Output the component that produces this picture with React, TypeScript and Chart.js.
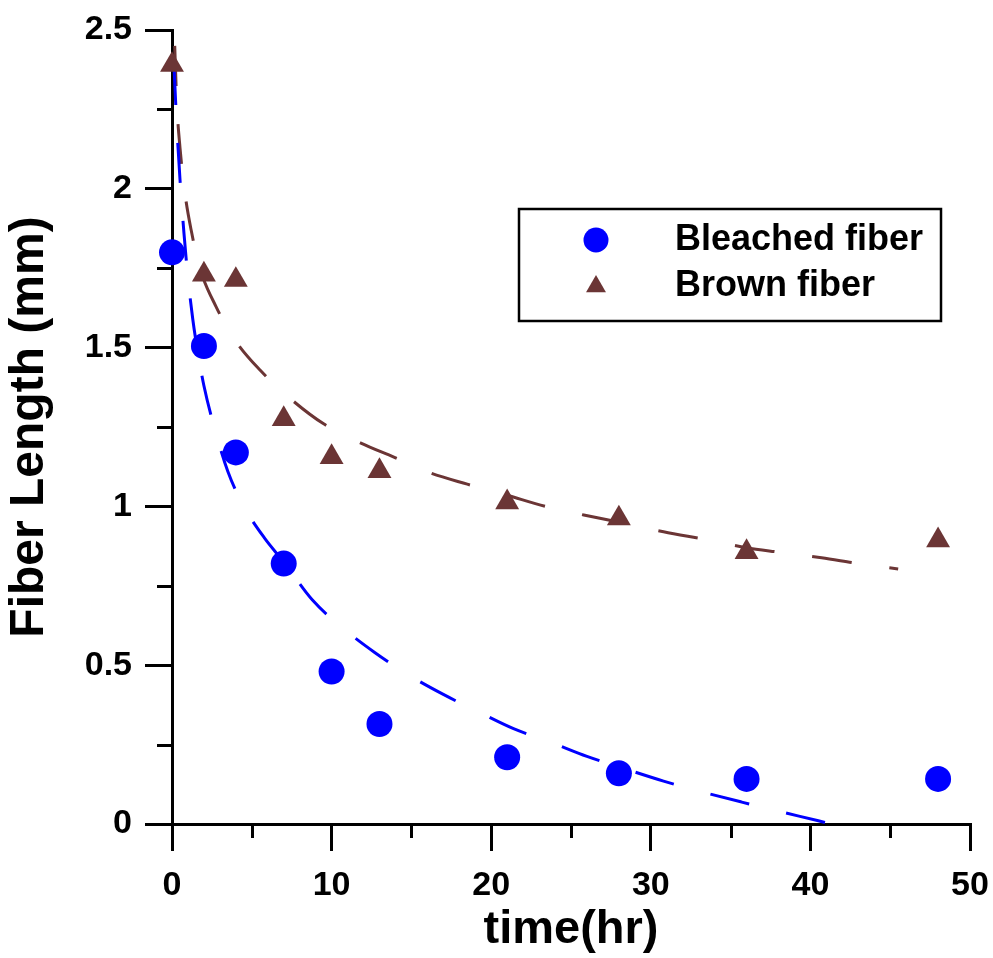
import React, { useEffect, useRef } from 'react';
import { Chart, registerables } from 'chart.js';

Chart.register(...registerables);

// Measured data
const bleachedTime = [0, 2, 4, 7, 10, 13, 21, 28, 36, 48];
const bleachedLength = [1.80, 1.505, 1.17, 0.82, 0.48, 0.315, 0.21, 0.16, 0.142, 0.142];
const brownTime = [0, 2, 4, 7, 10, 13, 21, 28, 36, 48];
const brownLength = [2.39, 1.73, 1.713, 1.275, 1.155, 1.111, 1.013, 0.962, 0.856, 0.893];

// Fitted curves
const bleachedFitTime = [0.12, 0.3, 0.5, 0.75, 1.0, 1.3, 1.6, 2.0, 2.7, 3.5, 4.5, 5.8, 7.0, 8.8, 10.7, 12.7, 14.8, 17.0, 19.2, 21.4, 23.7, 26.0, 28.0, 30.8, 33.3, 35.7, 38.2, 40.5, 41.3];
const bleachedFitLength = [2.39, 2.2, 2.03, 1.86, 1.72, 1.59, 1.49, 1.38, 1.24, 1.11, 1.0, 0.9, 0.825, 0.705, 0.617, 0.54, 0.47, 0.408, 0.353, 0.30, 0.258, 0.213, 0.18, 0.135, 0.10, 0.069, 0.038, 0.01, 0.0];
const brownFitTime = [0.17, 0.3, 0.5, 0.8, 1.2, 1.75, 2.75, 4.0, 5.5, 7.4, 9.5, 11.8, 13.9, 16.2, 18.5, 21.0, 23.4, 25.8, 28.5, 30.8, 33.5, 36.0, 38.0, 40.7, 43.0, 45.5];
const brownFitLength = [2.45, 2.27, 2.13, 1.99, 1.87, 1.75, 1.63, 1.52, 1.43, 1.34, 1.26, 1.20, 1.155, 1.105, 1.07, 1.035, 1.0, 0.973, 0.945, 0.92, 0.895, 0.87, 0.856, 0.838, 0.82, 0.803];

// Axis ticks
const xMajorTicks = [0, 10, 20, 30, 40, 50];
const xMinorTicks = [5, 15, 25, 35, 45];
const yMajorTicks = [0, 0.5, 1, 1.5, 2, 2.5];
const yTickLabels = ['0', '0.5', '1', '1.5', '2', '2.5'];
const yMinorTicks = [0.25, 0.75, 1.25, 1.75, 2.25];

const seriesNames = ['Bleached fiber', 'Brown fiber'];
const BLUE = '#0000ff';
const BROWN = '#6b3535';
const FONT = '"Liberation Sans", Arial, Helvetica, sans-serif';

const toXY = (xs: number[], ys: number[]) => xs.map((x, i) => ({ x, y: ys[i] }));

const minorTickPlugin = {
  id: 'minorTicks',
  beforeDatasetsDraw(chart: any) {
    const ctx = chart.ctx;
    const xs = chart.scales.x;
    const ys = chart.scales.y;
    const area = chart.chartArea;
    ctx.save();
    ctx.strokeStyle = '#000';
    ctx.lineWidth = 3;
    ctx.lineCap = 'butt';
    for (const v of yMinorTicks) {
      const py = Math.round(ys.getPixelForValue(v)) + 0.5;
      ctx.beginPath();
      ctx.moveTo(area.left - 15, py);
      ctx.lineTo(area.left, py);
      ctx.stroke();
    }
    for (const v of xMinorTicks) {
      const px = Math.round(xs.getPixelForValue(v)) + 0.5;
      ctx.beginPath();
      ctx.moveTo(px, area.bottom);
      ctx.lineTo(px, area.bottom + 14);
      ctx.stroke();
    }
    ctx.restore();
  },
};

const legendPlugin = {
  id: 'boxLegend',
  afterDatasetsDraw(chart: any) {
    const ctx = chart.ctx;
    ctx.save();
    ctx.lineWidth = 2.5;
    ctx.strokeStyle = '#000';
    ctx.strokeRect(519, 209, 422, 112);
    // circle marker
    ctx.fillStyle = chart.data.datasets[0].backgroundColor;
    ctx.beginPath();
    ctx.arc(596, 240, 12.5, 0, Math.PI * 2);
    ctx.fill();
    // triangle marker
    const r = 11.5;
    const cx = 596;
    const cy = 286.5;
    ctx.fillStyle = chart.data.datasets[1].backgroundColor;
    ctx.beginPath();
    for (let k = 0; k < 3; k++) {
      const a = (k * 2 * Math.PI) / 3;
      const px = cx + Math.sin(a) * r;
      const py = cy - Math.cos(a) * r;
      if (k === 0) ctx.moveTo(px, py);
      else ctx.lineTo(px, py);
    }
    ctx.closePath();
    ctx.fill();
    ctx.fillStyle = '#000';
    ctx.font = `bold 36px ${FONT}`;
    ctx.textBaseline = 'middle';
    ctx.textAlign = 'left';
    ctx.fillText(chart.data.datasets[0].label, 675, 240);
    ctx.fillText(chart.data.datasets[1].label, 675, 286);
    ctx.restore();
  },
};

export default function App() {
  const ref = useRef<HTMLCanvasElement>(null);
  useEffect(() => {
    const canvas = ref.current;
    if (!canvas) return;
    const axisGrid = {
      drawOnChartArea: false,
      drawTicks: true,
      tickLength: 27,
      tickWidth: 3,
      tickColor: '#000',
      color: '#000',
      lineWidth: 3,
    };
    const chart = new Chart(canvas, {
      type: 'scatter',
      data: {
        datasets: [
          {
            label: seriesNames[0],
            data: toXY(bleachedTime, bleachedLength),
            backgroundColor: BLUE,
            pointBackgroundColor: BLUE,
            pointStyle: 'circle',
            pointRadius: 13,
            pointBorderWidth: 0,
            showLine: false,
            order: 1,
            clip: false,
          },
          {
            label: seriesNames[1],
            data: toXY(brownTime, brownLength),
            backgroundColor: BROWN,
            pointBackgroundColor: BROWN,
            pointStyle: 'triangle',
            pointRadius: 13.8,
            pointBorderWidth: 0,
            showLine: false,
            order: 1,
            clip: false,
          },
          {
            label: 'Bleached fit',
            data: toXY(bleachedFitTime, bleachedFitLength),
            borderColor: BLUE,
            borderWidth: 3,
            borderDash: [40, 38],
            pointRadius: 0,
            showLine: true,
            cubicInterpolationMode: 'monotone',
            order: 2,
            clip: false,
          },
          {
            label: 'Brown fit',
            data: toXY(brownFitTime, brownFitLength),
            borderColor: BROWN,
            borderWidth: 3,
            borderDash: [40, 38],
            pointRadius: 0,
            showLine: true,
            cubicInterpolationMode: 'monotone',
            order: 2,
            clip: false,
          },
        ],
      },
      options: {
        animation: false,
        responsive: false,
        devicePixelRatio: 1,
        events: [],
        layout: { padding: { left: 0, top: 30, right: 23, bottom: 0 } },
        plugins: {
          legend: { display: false },
          tooltip: { enabled: false },
        },
        scales: {
          x: {
            type: 'linear',
            position: 'bottom',
            min: 0,
            max: 50,
            afterBuildTicks: (s: any) => {
              s.ticks = xMajorTicks.map((v) => ({ value: v }));
            },
            afterFit: (s: any) => {
              s.height = 134;
              s.paddingLeft = 0;
              s.paddingRight = 0;
            },
            ticks: {
              color: '#000',
              font: { family: FONT, size: 34, weight: 'bold' },
              padding: 14,
              maxRotation: 0,
              autoSkip: false,
            },
            grid: axisGrid,
            border: { display: true, color: '#000', width: 3 },
            title: {
              display: true,
              text: 'time(hr)',
              color: '#000',
              font: { family: FONT, size: 47, weight: 'bold' },
              padding: { top: 0, bottom: 0 },
            },
          },
          y: {
            type: 'linear',
            position: 'left',
            min: 0,
            max: 2.5,
            afterBuildTicks: (s: any) => {
              s.ticks = yMajorTicks.map((v) => ({ value: v }));
            },
            afterFit: (s: any) => {
              s.width = 172;
              s.paddingTop = 0;
              s.paddingBottom = 0;
            },
            ticks: {
              color: '#000',
              font: { family: FONT, size: 34, weight: 'bold' },
              padding: 13,
              autoSkip: false,
              callback: (_v: any, i: number) => yTickLabels[i],
            },
            grid: axisGrid,
            border: { display: true, color: '#000', width: 3 },
            title: {
              display: true,
              text: 'Fiber Length (mm)',
              color: '#000',
              font: { family: FONT, size: 48, weight: 'bold' },
              padding: { top: 1, bottom: 0 },
            },
          },
        },
      },
      plugins: [minorTickPlugin, legendPlugin],
    } as any);
    return () => chart.destroy();
  }, []);
  return (
    <div style={{ position: 'fixed', left: 0, top: 0, width: 993, height: 958, background: '#fff' }}>
      <canvas ref={ref} width={993} height={958} style={{ display: 'block' }} />
    </div>
  );
}
